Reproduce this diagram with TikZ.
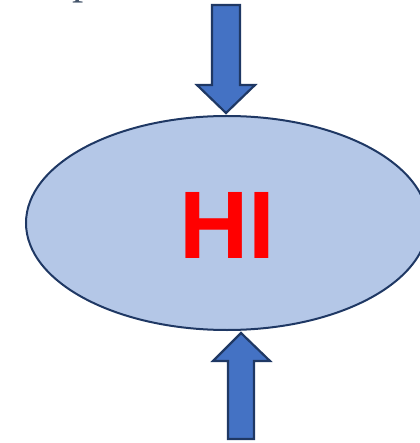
\documentclass[tikz,border=0pt]{standalone}
\usepackage{fontspec}
\usetikzlibrary{shapes.geometric}
\newfontfamily\hifont{Liberation Sans}
\newfontfamily\capfont{Liberation Serif}
\definecolor{arrowblue}{HTML}{4472C4}
\definecolor{ovalblue}{HTML}{B4C7E7}
\definecolor{navyline}{HTML}{1F3864}
\definecolor{slatetext}{HTML}{44546A}

\begin{document}
\begin{tikzpicture}[x=1pt,y=-1pt]
\useasboundingbox (0,0) rectangle (419,443);
\begin{scope}
\clip (0,0) rectangle (419,443);
\node[anchor=base, inner sep=0pt, text=slatetext, font=\capfont\fontsize{45}{45}\selectfont] (capp) at (84,-6) {p};
\node[anchor=base, inner sep=0pt, text=slatetext, font=\capfont\fontsize{45}{45}\selectfont] (capcomma) at (332,-8) {,};
\end{scope}
\node[ellipse, draw=navyline, fill=ovalblue, line width=2pt, inner sep=0pt, minimum width=402pt, minimum height=214pt] (hi) at (227,223) {};
\node[inner sep=0pt, text=red, font=\hifont\bfseries\fontsize{96}{96}\selectfont] (hitext) at (227,225) {HI};
\filldraw[fill=arrowblue, draw=navyline, line width=2.2pt, line join=miter] (212,5) -- (240,5) -- (240,85) -- (255,85) -- (226,113) -- (197,85) -- (212,85) -- cycle;
\filldraw[fill=arrowblue, draw=navyline, line width=2.2pt, line join=miter] (228,439) -- (254,439) -- (254,361) -- (270,361) -- (241,333) -- (213,361) -- (228,361) -- cycle;
\end{tikzpicture}
\end{document}
